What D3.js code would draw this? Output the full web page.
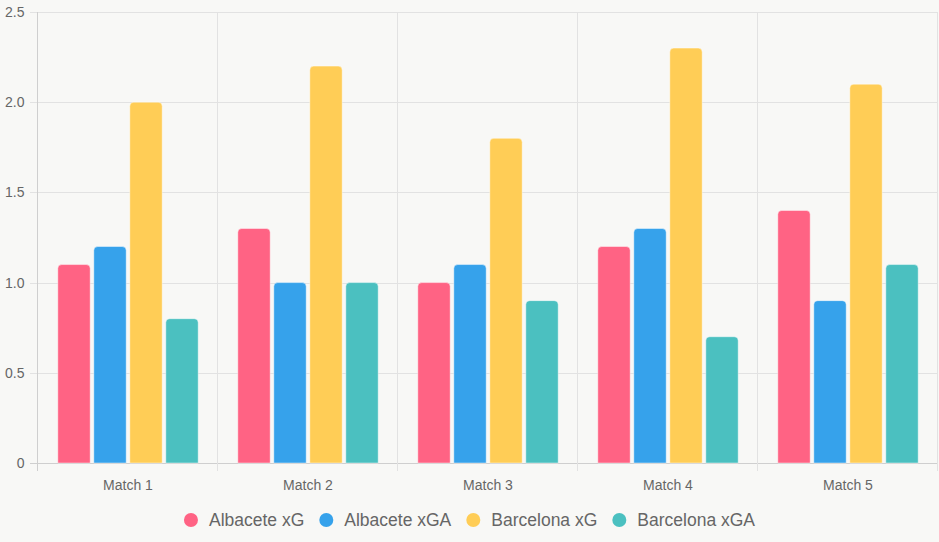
<!DOCTYPE html>
<html>
<head>
<meta charset="utf-8">
<script src="https://cdn.jsdelivr.net/npm/d3@7"></script>
<style>
  body { margin: 0; background: #f8f8f6; }
  svg { display: block; font-family: "Liberation Sans", Arial, sans-serif; }
</style>
</head>
<body>
<div id="chart"></div>
<script>
var matches = ["Match 1", "Match 2", "Match 3", "Match 4", "Match 5"];
var seriesNames = ["Albacete xG", "Albacete xGA", "Barcelona xG", "Barcelona xGA"];
var albaceteXG = [1.1, 1.3, 1.0, 1.2, 1.4];
var albaceteXGA = [1.2, 1.0, 1.1, 1.3, 0.9];
var barcelonaXG = [2.0, 2.2, 1.8, 2.3, 2.1];
var barcelonaXGA = [0.8, 1.0, 0.9, 0.7, 1.1];
var yTicks = [0, 0.5, 1.0, 1.5, 2.0, 2.5];
var colors = ["#ff6384", "#36a2eb", "#ffcd56", "#4bc0c0"];

var allSeries = [albaceteXG, albaceteXGA, barcelonaXG, barcelonaXGA];

var width = 939, height = 542;
var margin = {top: 12, right: 1, bottom: 79, left: 38};

var svg = d3.select("#chart")
    .append("svg")
    .attr("width", width)
    .attr("height", height);

var x = d3.scaleBand()
    .domain(matches)
    .range([margin.left, width - margin.right]);

var y = d3.scaleLinear()
    .domain([0, 2.5])
    .range([height - margin.bottom, margin.top]);

// inner band for the 4 bars (category 0.8, bar 0.9 like chart.js)
var inner = d3.scaleBand()
    .domain(d3.range(seriesNames.length))
    .range([0, x.bandwidth() * 0.8]);

// horizontal grid + tick marks
svg.append("g")
    .selectAll("line")
    .data(yTicks)
    .enter()
    .append("line")
    .attr("x1", margin.left - 8)
    .attr("x2", width - margin.right)
    .attr("y1", function(d) { return Math.round(y(d)) + 0.5; })
    .attr("y2", function(d) { return Math.round(y(d)) + 0.5; })
    .attr("stroke", function(d) { return d === 0 ? "#cfcfcf" : "#e2e2e2"; });

// vertical grid
var xEdges = matches.map(function(m) { return x(m); }).concat([width - margin.right]);
svg.append("g")
    .selectAll("line")
    .data(xEdges)
    .enter()
    .append("line")
    .attr("x1", function(d) { return Math.round(d) - 0.5; })
    .attr("x2", function(d) { return Math.round(d) - 0.5; })
    .attr("y1", margin.top)
    .attr("y2", height - margin.bottom + 8)
    .attr("stroke", function(d, i) { return i === 0 ? "#cfcfcf" : "#e2e2e2"; });

// y labels
svg.append("g")
    .selectAll("text")
    .data(yTicks)
    .enter()
    .append("text")
    .attr("x", margin.left - 13.5)
    .attr("y", function(d) { return y(d); })
    .attr("dy", "0.35em")
    .attr("text-anchor", "end")
    .attr("fill", "#666")
    .style("font-size", "14px")
    .text(function(d) { return d === 0 ? "0" : d.toFixed(1); });

// x labels
svg.append("g")
    .selectAll("text")
    .data(matches)
    .enter()
    .append("text")
    .attr("x", function(d) { return x(d) + x.bandwidth() / 2; })
    .attr("y", height - margin.bottom + 27)
    .attr("text-anchor", "middle")
    .attr("fill", "#666")
    .style("font-size", "14px")
    .text(function(d) { return d; });

// rounded top bar path
function barPath(x0, w, yTop, yBottom, r) {
    r = Math.min(r, w / 2, yBottom - yTop);
    return "M" + x0 + "," + yBottom +
        "V" + (yTop + r) +
        "Q" + x0 + "," + yTop + " " + (x0 + r) + "," + yTop +
        "H" + (x0 + w - r) +
        "Q" + (x0 + w) + "," + yTop + " " + (x0 + w) + "," + (yTop + r) +
        "V" + yBottom + "Z";
}

allSeries.forEach(function(values, s) {
    var barW = inner.bandwidth() * 0.9;
    svg.append("g")
        .selectAll("path")
        .data(values)
        .enter()
        .append("path")
        .attr("d", function(d, i) {
            var x0 = x(matches[i]) + x.bandwidth() * 0.1 + inner(s) + inner.bandwidth() * 0.05;
            return barPath(x0, barW, y(d), y(0), 4);
        })
        .attr("fill", colors[s])
        .attr("stroke", "rgba(255,255,255,0.45)")
        .attr("stroke-width", 1);
});

// legend
var legend = svg.append("g");
var lx = 0;
seriesNames.forEach(function(name, i) {
    var g = legend.append("g");
    g.append("circle")
        .attr("cx", 7)
        .attr("cy", 0)
        .attr("r", 7)
        .attr("fill", colors[i]);
    var t = g.append("text")
        .attr("x", 25)
        .attr("y", 0)
        .attr("dy", "0.35em")
        .attr("fill", "#666")
        .style("font-size", "17.5px")
        .text(name);
    var w = 25 + t.node().getComputedTextLength();
    g.attr("transform", "translate(" + lx + ",0)");
    lx += w + 15;
});
lx -= 15;
legend.attr("transform", "translate(" + ((width - lx) / 2) + "," + 520 + ")");
</script>
</body>
</html>
